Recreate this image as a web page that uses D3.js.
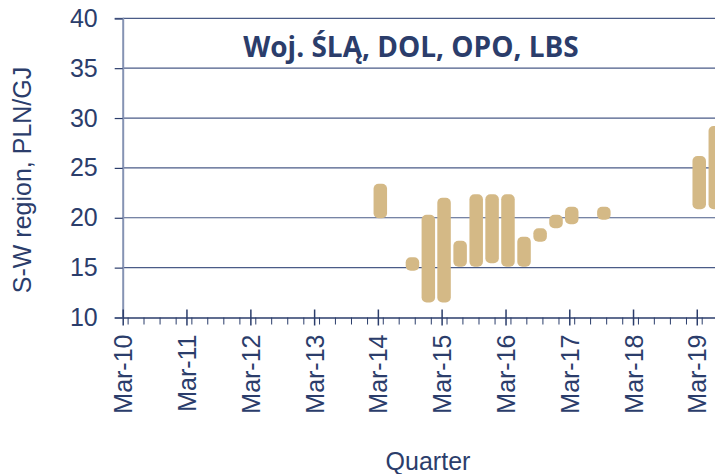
<!DOCTYPE html>
<html>
<head>
<meta charset="utf-8">
<script src="https://cdn.jsdelivr.net/npm/d3@7"></script>
<style>
  html, body { margin: 0; padding: 0; background: #fff; }
  svg { display: block; }
</style>
</head>
<body>
<div id="chart"></div>
<script>
// Price ranges per quarter (PLN/GJ)
const quarters = ['2014-03', '2014-09', '2014-12', '2015-03', '2015-06', '2015-09', '2015-12',
                  '2016-03', '2016-06', '2016-09', '2016-12', '2017-03', '2017-09', '2019-03', '2019-06'];
const lows  = [19.95, 14.7, 11.5, 11.5, 15.1, 15.1, 15.45, 15.1, 15.1, 17.6, 18.95, 19.35, 19.8, 20.85, 20.85];
const highs = [23.4, 16.05, 20.3, 22.0, 17.7, 22.35, 22.35, 22.35, 18.1, 18.95, 20.3, 21.1, 21.1, 26.2, 29.2];

const yTicks = [10, 15, 20, 25, 30, 35, 40];
const xYears = [2010, 2011, 2012, 2013, 2014, 2015, 2016, 2017, 2018, 2019];

const W = 715, H = 474;
const navy = '#2b3d6b';
const barColor = '#d4b986';

const parseMonth = d3.timeParse('%Y-%m');
const data = quarters.map((q, i) => ({
    date: d3.timeDay.offset(parseMonth(q), 14),
    low: lows[i],
    high: highs[i]
}));

const svg = d3.select('#chart').append('svg')
    .attr('width', W).attr('height', H)
    .attr('viewBox', `0 0 ${W} ${H}`);

const x = d3.scaleTime()
    .domain([new Date(2010, 2, 1), new Date(2020, 2, 1)])
    .range([122.7, 760.7]);

const y = d3.scaleLinear()
    .domain([10, 40])
    .range([317.5, 18.3]);

// Gridlines
svg.append('g')
    .selectAll('line')
    .data(yTicks.filter(t => t > 10))
    .join('line')
    .attr('x1', x.range()[0]).attr('x2', x.range()[1])
    .attr('y1', d => y(d)).attr('y2', d => y(d))
    .attr('stroke', '#4a5b87')
    .attr('stroke-width', 1.2);

// Bars
svg.append('g')
    .selectAll('rect')
    .data(data)
    .join('rect')
    .attr('x', d => x(d.date) - 6.75)
    .attr('width', 13.5)
    .attr('y', d => y(d.high))
    .attr('height', d => y(d.low) - y(d.high))
    .attr('rx', 5).attr('ry', 5)
    .attr('fill', barColor);

// Y axis
const yAxis = svg.append('g')
    .attr('transform', `translate(${x.range()[0]},0)`)
    .call(d3.axisLeft(y).tickValues(yTicks).tickSize(8).tickPadding(17));
yAxis.select('.domain').attr('stroke', '#8593b3').attr('stroke-width', 2);
yAxis.selectAll('.tick line').attr('stroke', navy).attr('stroke-width', 1.2);
yAxis.selectAll('.tick text')
    .attr('fill', navy)
    .attr('font-family', '"Liberation Sans", Arial, sans-serif')
    .attr('font-size', '25px');

// X axis: minor quarterly ticks
const minorDates = d3.timeMonth.every(3).range(x.domain()[0], x.domain()[1]);
svg.append('g')
    .selectAll('line')
    .data(minorDates)
    .join('line')
    .attr('x1', d => x(d)).attr('x2', d => x(d))
    .attr('y1', y(10)).attr('y2', y(10) + 7)
    .attr('stroke', navy).attr('stroke-width', 1);

const majorDates = xYears.map(yr => new Date(yr, 2, 1));
const xAxis = svg.append('g')
    .attr('transform', `translate(0,${y(10)})`)
    .call(d3.axisBottom(x).tickValues(majorDates).tickSize(8).tickSizeOuter(0)
        .tickFormat(d3.timeFormat('%b-%y')));
xAxis.select('.domain').attr('stroke', navy).attr('stroke-width', 1.5);
xAxis.selectAll('.tick line').attr('stroke', navy).attr('stroke-width', 1.5).attr('y1', -8);
xAxis.selectAll('.tick text')
    .attr('fill', navy)
    .attr('font-family', '"Liberation Sans", Arial, sans-serif')
    .attr('font-size', '25px')
    .attr('text-anchor', 'end')
    .attr('transform', 'rotate(-90)')
    .attr('x', -17)
    .attr('y', 0)
    .attr('dy', '0.36em');

// Axis titles
svg.append('text')
    .attr('transform', 'translate(31,180) rotate(-90)')
    .attr('text-anchor', 'middle')
    .attr('fill', navy)
    .attr('font-family', '"Liberation Sans", Arial, sans-serif')
    .attr('font-size', '25px')
    .text('S-W region, PLN/GJ');

svg.append('text')
    .attr('x', 428).attr('y', 470)
    .attr('text-anchor', 'middle')
    .attr('fill', navy)
    .attr('font-family', '"Liberation Sans", Arial, sans-serif')
    .attr('font-size', '25px')
    .text('Quarter');

// Title
svg.append('text')
    .attr('x', 411).attr('y', 57)
    .attr('text-anchor', 'middle')
    .attr('fill', navy)
    .attr('font-family', '"Open Sans", Lato, sans-serif')
    .attr('font-weight', 700)
    .attr('font-size', '28px')
    .text('Woj. ŚLĄ, DOL, OPO, LBS');
</script>
</body>
</html>
